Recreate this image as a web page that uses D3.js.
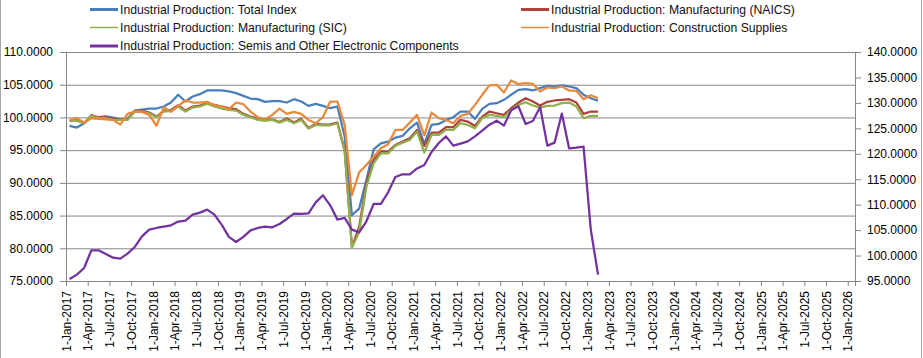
<!DOCTYPE html>
<html><head><meta charset="utf-8">
<script src="https://cdn.jsdelivr.net/npm/d3@7/dist/d3.min.js"></script>
<style>
body{margin:0;background:#fff}
svg{display:block}
text{font-family:"Liberation Sans",Arial,sans-serif;}
</style>
</head><body>
<svg id="c" width="923" height="358"></svg>
<script>
// Monthly observations from Jan 2017 to Feb 2023 (74 months)
const firstMonth = "2017-01";
const totalIndex = [98.70,98.45,99.11,100.13,100.03,100.18,99.98,99.72,99.78,101.05,
101.21,101.36,101.36,101.67,102.28,103.46,102.43,103.20,103.56,104.12,
104.12,104.12,103.97,103.71,103.30,102.89,102.79,102.38,102.48,102.48,
102.28,102.79,102.43,101.77,102.08,101.77,101.41,101.67,97.07,85.05,
86.07,90.42,95.12,96.04,96.30,96.91,97.17,98.34,99.21,95.94,
98.85,99.01,99.62,100.03,100.90,100.90,99.78,101.31,102.08,102.18,
102.69,103.46,104.22,104.33,104.12,104.48,104.84,104.73,104.89,104.73,
104.48,103.46,102.94,102.54];
const mfgNAICS = [99.47,99.62,99.11,100.34,100.03,100.03,99.83,99.62,99.72,101.00,
101.05,100.75,100.13,101.00,101.16,101.87,101.05,101.67,101.82,102.18,
101.92,101.67,101.41,101.26,100.54,100.13,99.83,99.62,99.72,99.31,
99.83,99.21,99.78,98.39,99.01,98.91,98.95,99.20,95.02,80.19,
83.26,89.91,93.49,94.77,94.77,95.79,96.30,96.81,98.09,95.63,
97.68,97.68,98.50,98.50,99.62,99.37,98.70,100.13,100.90,100.64,
100.39,101.41,102.28,102.94,102.43,101.82,102.38,102.59,102.69,102.79,
102.28,100.54,100.90,100.90];
const mfgSIC = [99.57,99.47,99.11,100.24,99.98,99.88,99.62,99.62,99.62,100.90,
100.90,100.64,100.03,100.90,101.00,101.67,100.90,101.51,101.67,102.08,
101.67,101.36,101.16,101.05,100.39,100.03,99.62,99.47,99.62,99.21,
99.62,99.11,99.62,98.29,98.85,98.80,98.80,99.11,94.76,80.09,
82.49,89.40,92.98,94.51,94.51,95.63,96.15,96.55,97.83,94.61,
97.32,97.32,98.09,98.09,99.11,98.85,98.34,99.88,100.39,100.24,
100.03,101.16,101.92,102.33,101.82,101.51,101.77,101.82,102.18,102.28,
101.67,99.88,100.24,100.24];
const construction = [99.62,99.88,99.21,99.88,99.78,99.72,99.62,98.91,100.54,100.90,
100.85,100.39,98.70,101.56,100.85,101.77,102.59,102.28,102.28,102.38,
101.87,101.67,101.26,102.28,102.02,100.90,100.03,99.72,100.39,101.36,
100.54,100.85,100.54,99.62,99.11,100.03,102.43,102.43,98.85,88.12,
91.60,92.72,94.00,95.28,95.89,98.09,98.09,99.21,100.39,97.27,
100.75,99.88,99.62,99.11,100.24,100.54,101.92,103.46,104.89,104.99,
103.81,105.65,105.09,105.25,105.14,103.97,104.58,104.48,104.73,104.12,
104.07,102.79,103.40,102.94];
// right axis
const semis = [95.40,96.26,97.56,101.03,101.03,100.31,99.59,99.40,100.38,101.69,
103.78,105.09,105.42,105.68,105.94,106.67,106.86,108.04,108.44,109.02,
108.04,106.08,103.66,102.67,103.66,104.96,105.42,105.68,105.55,106.21,
107.19,108.24,108.17,108.30,110.46,111.84,109.87,107.06,107.39,105.09,
104.57,106.73,110.14,110.14,112.43,115.44,115.97,115.97,117.11,117.80,
120.35,122.12,123.43,121.60,122.00,122.45,123.43,124.54,125.72,126.51,
125.53,128.54,129.33,125.86,126.44,129.20,121.60,122.19,127.90,121.07,
121.20,121.40,105.10,96.25];

const leftTicks = [75,80,85,90,95,100,105,110];
const rightTicks = [95,100,105,110,115,120,125,130,135,140];
const xTickLabels = ["1-Jan-2017","1-Apr-2017","1-Jul-2017","1-Oct-2017",
"1-Jan-2018","1-Apr-2018","1-Jul-2018","1-Oct-2018",
"1-Jan-2019","1-Apr-2019","1-Jul-2019","1-Oct-2019",
"1-Jan-2020","1-Apr-2020","1-Jul-2020","1-Oct-2020",
"1-Jan-2021","1-Apr-2021","1-Jul-2021","1-Oct-2021",
"1-Jan-2022","1-Apr-2022","1-Jul-2022","1-Oct-2022",
"1-Jan-2023","1-Apr-2023","1-Jul-2023","1-Oct-2023",
"1-Jan-2024","1-Apr-2024","1-Jul-2024","1-Oct-2024",
"1-Jan-2025","1-Apr-2025","1-Jul-2025","1-Oct-2025","1-Jan-2026"];
const seriesNames = ["Industrial Production: Total Index",
"Industrial Production: Manufacturing (NAICS)",
"Industrial Production: Manufacturing (SIC)",
"Industrial Production: Construction Supplies",
"Industrial Production: Semis and Other Electronic Components"];
const seriesColors = ["#4a7ebb","#b0423e","#8fb04c","#e8893c","#7332a0"];

const svg = d3.select("#c");
const L=66,R=855,T=52,B=281;
const axisColor="#868686";
const x = d3.scaleLinear().domain([0,109]).range([L,R]);
const yL = d3.scaleLinear().domain([75,110]).range([B,T]);
const yR = d3.scaleLinear().domain([95,140]).range([B,T]);

// sheet edges
svg.append("line").attr("x1",0.5).attr("x2",0.5).attr("y1",0).attr("y2",358).attr("stroke","#a6a6a6");
svg.append("line").attr("x1",921.5).attr("x2",921.5).attr("y1",0).attr("y2",358).attr("stroke","#a6a6a6");

// gridlines
const grid = svg.append("g").attr("transform",`translate(${L},0)`)
  .call(d3.axisLeft(yL).tickValues(leftTicks).tickSize(-(R-L)).tickFormat(""));
grid.select(".domain").remove();
grid.selectAll("line").attr("stroke",axisColor).attr("stroke-width",1);

// left axis
const gl = svg.append("g").attr("transform",`translate(${L},0)`)
  .call(d3.axisLeft(yL).tickValues(leftTicks).tickSize(6).tickPadding(7).tickFormat(d3.format(".4f")));
// right axis
const gr = svg.append("g").attr("transform",`translate(${R},0)`)
  .call(d3.axisRight(yR).tickValues(rightTicks).tickSize(6).tickPadding(6).tickFormat(d3.format(".4f")));
// x axis
const gx = svg.append("g").attr("transform",`translate(0,${B})`)
  .call(d3.axisBottom(x).tickValues(d3.range(0,109,3)).tickSize(5).tickFormat((d,i)=>xTickLabels[i]));
gx.selectAll("text").attr("transform","rotate(-90)").attr("x",-10).attr("y",0).attr("dy","0.35em").attr("text-anchor","end");

[gl,gr,gx].forEach(g=>{
  g.select(".domain").attr("stroke",axisColor);
  g.selectAll(".tick line").attr("stroke",axisColor);
  g.selectAll("text").attr("font-size",12).attr("fill","#000").attr("font-family",'"Liberation Sans",Arial,sans-serif');
});

// series lines
const lineL = d3.line().x((d,i)=>x(i+0.5)).y(d=>yL(d));
const lineR = d3.line().x((d,i)=>x(i+0.5)).y(d=>yR(d));
const leftSeries = [totalIndex, mfgNAICS, mfgSIC, construction];
leftSeries.forEach((s,k)=>{
  svg.append("path").datum(s).attr("d",lineL).attr("fill","none")
    .attr("stroke",seriesColors[k]).attr("stroke-width",2.25).attr("stroke-linejoin","round");
});
svg.append("path").datum(semis).attr("d",lineR).attr("fill","none")
  .attr("stroke",seriesColors[4]).attr("stroke-width",2.25).attr("stroke-linejoin","round");

// legend
const legendPos = [[90,9.5],[521,9.5],[90,27.5],[521,27.5],[90,46]];
const legendWidth = [3,3,1.5,1.5,3];
const lg = svg.append("g");
seriesNames.forEach((n,k)=>{
  const [lx,ly]=legendPos[k];
  lg.append("line").attr("x1",lx).attr("x2",lx+28).attr("y1",ly).attr("y2",ly)
    .attr("stroke",seriesColors[k]).attr("stroke-width",legendWidth[k]);
  lg.append("text").attr("x",lx+30).attr("y",ly).attr("dy","0.35em")
    .attr("font-size",12.2).attr("fill","#111").text(n);
});
</script>
</body></html>
